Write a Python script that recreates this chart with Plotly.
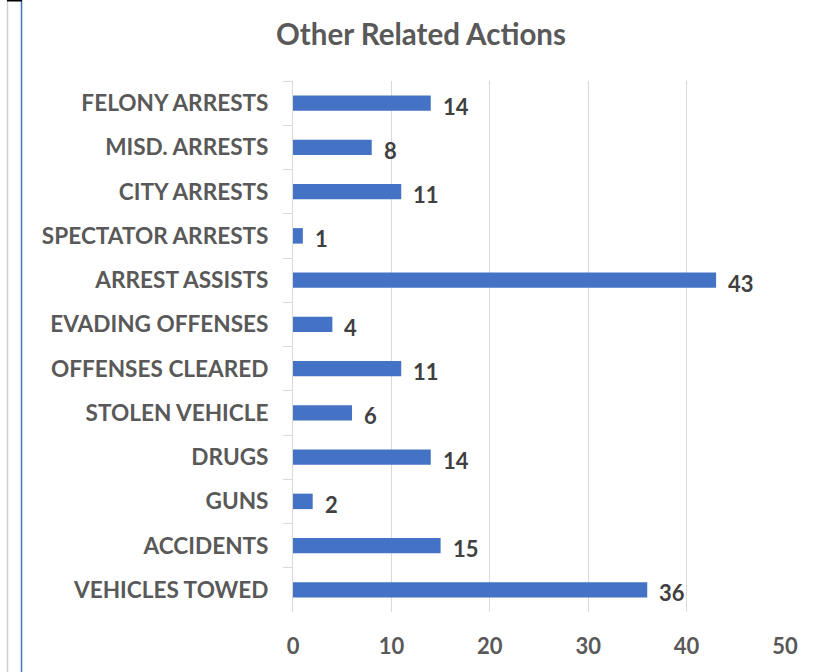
import plotly.graph_objects as go

categories = ["FELONY ARRESTS", "MISD. ARRESTS", "CITY ARRESTS", "SPECTATOR ARRESTS",
              "ARREST ASSISTS", "EVADING OFFENSES", "OFFENSES CLEARED", "STOLEN VEHICLE",
              "DRUGS", "GUNS", "ACCIDENTS", "VEHICLES TOWED"]
values = [14, 8, 11, 1, 43, 4, 11, 6, 14, 2, 15, 36]
x_ticks = [0, 10, 20, 30, 40, 50]

FONT = "Lato"
W, H = 817, 672
L, R, T, B = 293, 32, 81, 60
pw, ph = W - L - R, H - T - B

def px_x(p):
    return (p - L) / pw

def px_y(p):
    return 1 - (p - T) / ph

fig = go.Figure(go.Bar(
    y=categories, x=values, orientation="h",
    marker=dict(color="#4472C4", line=dict(width=0)),
    width=0.35,
))

for c, v in zip(categories, values):
    fig.add_annotation(x=v, y=c, text=f"<b>{v}</b>", showarrow=False,
                       xanchor="left", yanchor="middle", xshift=10, yshift=-3,
                       font=dict(family=FONT, size=22, color="#404040"))

# frame lines at left edge
fig.add_shape(type="line", xref="paper", yref="paper",
              x0=px_x(7.5), x1=px_x(7.5), y0=px_y(0), y1=px_y(H),
              line=dict(color="#d0d0d0", width=1.5))
fig.add_shape(type="line", xref="paper", yref="paper",
              x0=px_x(21.5), x1=px_x(21.5), y0=px_y(0), y1=px_y(H),
              line=dict(color="#4472C4", width=1.5))
fig.add_shape(type="line", xref="paper", yref="paper",
              x0=px_x(7), x1=px_x(22), y0=px_y(0.5), y1=px_y(0.5),
              line=dict(color="#000000", width=2))

fig.update_layout(
    width=W, height=H,
    margin=dict(l=L, r=R, t=T, b=B),
    paper_bgcolor="white", plot_bgcolor="white",
    showlegend=False,
    title=dict(text="<b>Other Related Actions</b>", x=421 / W, xanchor="center",
               y=1 - 35 / H, yanchor="middle",
               font=dict(family=FONT, size=29.5, color="#595959")),
    xaxis=dict(range=[0, 50], tickvals=x_ticks, showgrid=True, gridcolor="#d9d9d9",
               gridwidth=1, zeroline=False, showline=False, ticks="",
               ticklabelstandoff=19, automargin=False,
               tickfont=dict(family=FONT, size=22, color="#595959", weight="bold")),
    yaxis=dict(autorange="reversed", showline=True, linecolor="#d9d9d9", linewidth=1,
               ticks="outside", tickson="boundaries", ticklen=9, tickcolor="#d9d9d9",
               ticklabelstandoff=19, automargin=False,
               tickfont=dict(family=FONT, size=22.6, color="#595959", weight="bold")),
)

fig.write_html("out.html", config={"displayModeBar": False},
               post_script="document.body.style.margin='0';")
